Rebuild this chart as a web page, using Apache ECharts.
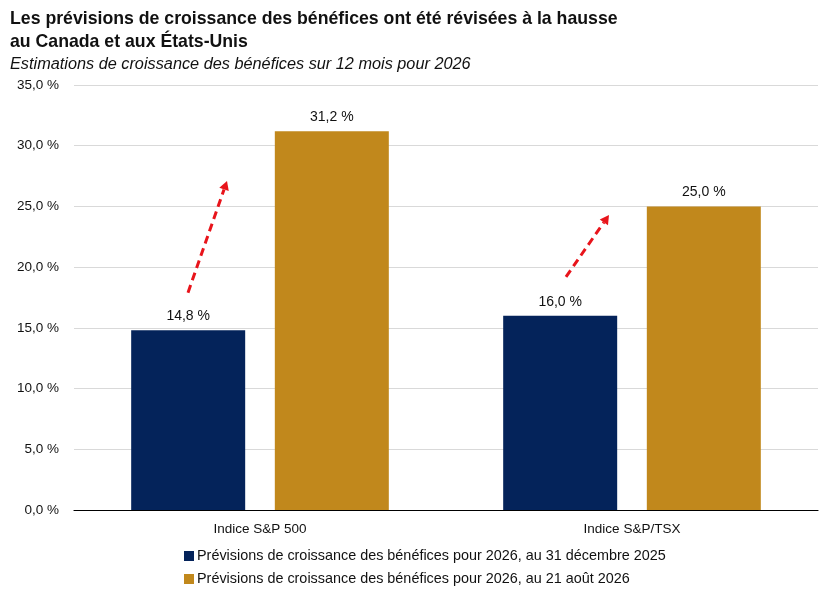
<!DOCTYPE html>
<html lang="fr">
<head>
    <meta charset="UTF-8">
    <title>Prévisions de croissance des bénéfices</title>
    <style>
        html, body { margin: 0; padding: 0; background: #fff; }
    </style>
</head>
<body>
<div id="main" style="width:824px;height:589px;"></div>
<script src="https://cdn.jsdelivr.net/npm/echarts@6.0.0/dist/echarts.min.js"></script>
<script>
    var categories = ['Indice S&P 500', 'Indice S&P/TSX'];
    var seriesNames = [
        'Prévisions de croissance des bénéfices pour 2026, au 31 décembre 2025',
        'Prévisions de croissance des bénéfices pour 2026, au 21 août 2026'
    ];
    var dec2025 = [14.8, 16.0];
    var aug2026 = [31.2, 25.0];
    // flèches rouges : [catégorie, valeur départ, valeur arrivée]
    var arrows = [[0, 17.9, 27.1], [1, 19.2, 24.3]];

    var navy = '#04235A';
    var gold = '#C1881C';
    var font = 'Liberation Sans, Arial, sans-serif';

    function fmt(v) {
        return v.toFixed(1).replace('.', ',') + ' %';
    }

    var myChart = echarts.init(document.getElementById('main'));

    function legendRow(name, top) {
        return {
            orient: 'horizontal',
            left: 179,
            top: top,
            itemWidth: 10,
            itemHeight: 10,
            icon: 'rect',
            textStyle: { fontSize: 14.4, color: '#111', padding: [0, 0, 0, -2] },
            data: [name]
        };
    }

    var option = {
        animation: false,
        textStyle: { fontFamily: font },
        title: [{
            text: 'Les prévisions de croissance des bénéfices ont été révisées à la hausse\nau Canada et aux États-Unis',
            left: 5,
            top: 3,
            textStyle: { fontSize: 17.7, fontWeight: 'bold', color: '#111', lineHeight: 23, fontFamily: font }
        }, {
            text: 'Estimations de croissance des bénéfices sur 12 mois pour 2026',
            left: 5,
            top: 51,
            textStyle: { fontSize: 16.3, fontWeight: 'normal', fontStyle: 'italic', color: '#111', fontFamily: font }
        }],
        legend: [legendRow(seriesNames[0], 544), legendRow(seriesNames[1], 567)],
        grid: {
            left: 74,
            right: 6,
            top: 85,
            bottom: 79
        },
        xAxis: {
            type: 'category',
            data: categories,
            axisLine: { lineStyle: { color: '#000', width: 1.2 } },
            axisTick: { show: false },
            axisLabel: { fontSize: 13.5, color: '#111', margin: 12 }
        },
        yAxis: {
            type: 'value',
            min: 0,
            max: 35,
            interval: 5,
            axisLine: { show: false },
            axisTick: { show: false },
            axisLabel: {
                fontSize: 13.5, color: '#111', margin: 15,
                formatter: function (v) { return fmt(v); }
            },
            splitLine: { lineStyle: { color: '#d9d9d9' } }
        },
        series: [{
            name: seriesNames[0],
            type: 'bar',
            data: dec2025,
            barWidth: 114,
            barGap: '26%',
            itemStyle: { color: navy },
            label: {
                show: true, position: 'top', distance: 7,
                fontSize: 14, color: '#111',
                formatter: function (p) { return fmt(p.value); }
            }
        }, {
            name: seriesNames[1],
            type: 'bar',
            data: aug2026,
            barWidth: 114,
            itemStyle: { color: gold },
            label: {
                show: true, position: 'top', distance: 7,
                fontSize: 14, color: '#111',
                formatter: function (p) { return fmt(p.value); }
            }
        }]
    };

    myChart.setOption(option);

    // flèches pointillées placées à partir des axes
    var offsets = [[-72, -33], [-66, -23]];
    var graphics = arrows.map(function (a, i) {
        var c = myChart.convertToPixel({ xAxisIndex: 0 }, a[0]);
        var y1 = myChart.convertToPixel({ yAxisIndex: 0 }, a[1]);
        var y2 = myChart.convertToPixel({ yAxisIndex: 0 }, a[2]);
        var x1 = c + offsets[i][0];
        var x2 = c + offsets[i][1];
        var ang = Math.atan2(y2 - y1, x2 - x1);
        var len = 9, w = 5;
        var bx = x2 - len * Math.cos(ang), by = y2 - len * Math.sin(ang);
        var px = -Math.sin(ang) * w, py = Math.cos(ang) * w;
        return {
            type: 'group',
            children: [{
                type: 'line',
                shape: { x1: x1, y1: y1, x2: bx, y2: by },
                style: { stroke: '#E8141B', lineWidth: 3, lineDash: [8, 5] }
            }, {
                type: 'polygon',
                shape: { points: [[x2, y2], [bx + px, by + py], [bx - px, by - py]] },
                style: { fill: '#E8141B' }
            }]
        };
    });
    myChart.setOption({ graphic: graphics });
</script>
</body>
</html>
